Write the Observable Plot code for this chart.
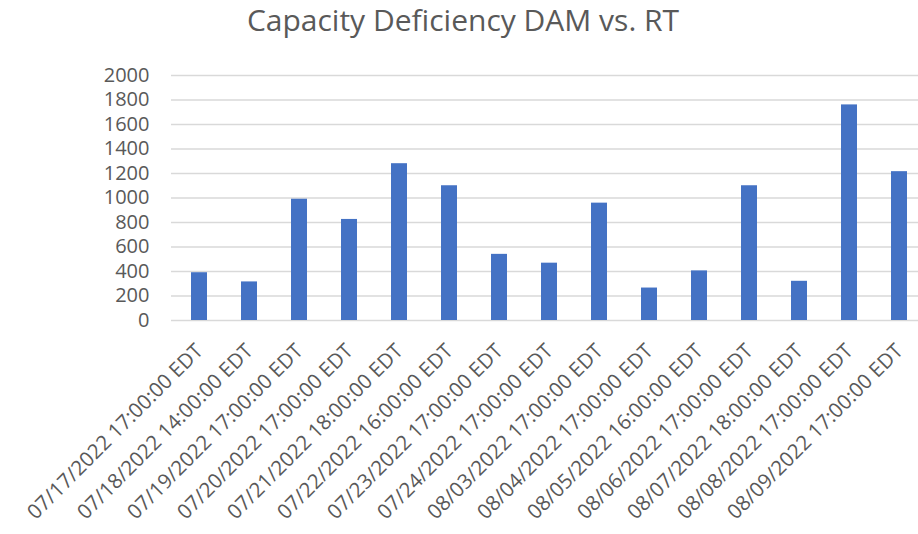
<!DOCTYPE html>
<html>
<head>
<meta charset="utf-8">
<script src="https://cdn.jsdelivr.net/npm/d3@7"></script>
<script src="https://cdn.jsdelivr.net/npm/@observablehq/plot@0.6"></script>
<style>
  html, body { margin: 0; padding: 0; background: #fff; }
  #wrap { position: relative; width: 918px; height: 534px; overflow: hidden; }
  #title { position: absolute; left: 0; width: 926px; top: 0px; text-align: center; line-height: 40px;
           font-family: "Open Sans", sans-serif; font-size: 30px; color: #595959; }
</style>
</head>
<body>
<div id="wrap"><div id="title">Capacity Deficiency DAM vs. RT</div></div>
<script>
const categories = [
  "07/17/2022 17:00:00 EDT", "07/18/2022 14:00:00 EDT", "07/19/2022 17:00:00 EDT",
  "07/20/2022 17:00:00 EDT", "07/21/2022 18:00:00 EDT", "07/22/2022 16:00:00 EDT",
  "07/23/2022 17:00:00 EDT", "07/24/2022 17:00:00 EDT", "08/03/2022 17:00:00 EDT",
  "08/04/2022 17:00:00 EDT", "08/05/2022 16:00:00 EDT", "08/06/2022 17:00:00 EDT",
  "08/07/2022 18:00:00 EDT", "08/08/2022 17:00:00 EDT", "08/09/2022 17:00:00 EDT"
];
const values = [390, 315, 990, 825, 1280, 1100, 540, 468, 958, 265, 405, 1100, 320, 1760, 1215];
const yTicks = [0, 200, 400, 600, 800, 1000, 1200, 1400, 1600, 1800, 2000];

const data = categories.map((c, i) => ({ cat: c, value: values[i] }));

const chart = Plot.plot({
  width: 918,
  height: 534,
  marginTop: 75,
  marginBottom: 214,
  marginLeft: 171,
  marginRight: 0,
  style: { fontFamily: "Open Sans, sans-serif", color: "#595959", background: "#fff" },
  x: { type: "band", domain: categories, range: [171, 927], paddingInner: 0.69, paddingOuter: 0.345 },
  y: { domain: [0, 2000], ticks: yTicks },
  marks: [
    Plot.ruleY(yTicks, { stroke: "#D9D9D9", strokeWidth: 1.5 }),
    Plot.barY(data, { x: "cat", y: "value", fill: "#4472C4" }),
    Plot.axisY({ ticks: yTicks, tickSize: 0, tickPadding: 22, fontSize: 20, label: null, fill: "#595959", tickFormat: d => String(d) }),
    Plot.axisX({ tickSize: 0, tickRotate: -45, tickPadding: 27, fontSize: 20.5, label: null, fill: "#595959" })
  ]
});
document.getElementById("wrap").appendChild(chart);
</script>
</body>
</html>
